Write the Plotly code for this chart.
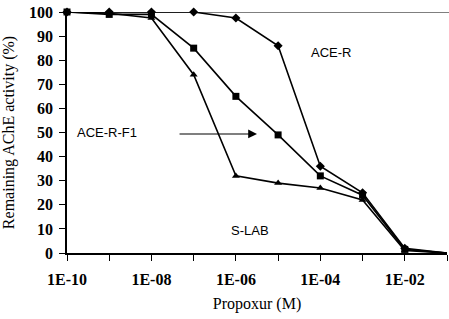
import plotly.graph_objects as go

conc = [1e-10, 1e-9, 1e-8, 1e-7, 1e-6, 1e-5, 1e-4, 1e-3, 1e-2, 1e-1]
ace_r = [100, 100, 100, 100, 97.5, 86, 36, 25, 2, 0]
ace_r_f1 = [100, 99, 99, 85, 65, 49, 32, 24, 1.5, 0]
s_lab = [100, 99.5, 97.5, 74, 32, 29, 27, 22, 1, 0]

xtick_vals = [1e-10, 1e-9, 1e-8, 1e-7, 1e-6, 1e-5, 1e-4, 1e-3, 1e-2, 1e-1]
xtick_text = ["1E-10", "", "1E-08", "", "1E-06", "", "1E-04", "", "1E-02", ""]
ytick_vals = [0, 10, 20, 30, 40, 50, 60, 70, 80, 90, 100]

fig = go.Figure()
line = dict(color="black", width=1.6)
fig.add_trace(go.Scatter(x=conc, y=ace_r, mode="lines+markers", name="ACE-R",
                         line=line, marker=dict(symbol="diamond", size=7, color="black"),
                         cliponaxis=False))
fig.add_trace(go.Scatter(x=conc, y=ace_r_f1, mode="lines+markers", name="ACE-R-F1",
                         line=line, marker=dict(symbol="square", size=7, color="black"),
                         cliponaxis=False))
fig.add_trace(go.Scatter(x=conc, y=s_lab, mode="lines+markers", name="S-LAB",
                         line=line, marker=dict(symbol="triangle-up", size=7, color="black"),
                         cliponaxis=False))

fig.add_shape(type="line", xref="paper", yref="y", x0=0, x1=1.01, y0=100, y1=100,
              line=dict(color="black", width=1.2))

sans = dict(family="Liberation Sans, Arial", size=13, color="black")
fig.add_annotation(x=-3.74, y=83, text="ACE-R", showarrow=False, font=sans)
fig.add_annotation(x=-9.05, y=50, text="ACE-R-F1", showarrow=False, font=sans)
fig.add_annotation(x=-5.66, y=9.5, text="S-LAB", showarrow=False, font=sans)
fig.add_annotation(x=-5.5, y=49.4, ax=-7.37, ay=49.4, xref="x", yref="y",
                   axref="x", ayref="y", text="", showarrow=True,
                   arrowhead=2, arrowsize=1.6, arrowwidth=1.1, arrowcolor="black")

serif_tick = dict(family="Liberation Serif, Times New Roman", size=16, color="black", weight="bold")
serif = dict(family="Liberation Serif, Times New Roman", size=16, color="black")
fig.update_xaxes(type="log", range=[-10, -1], tickvals=xtick_vals, ticktext=xtick_text,
                 ticks="outside", ticklen=6, tickcolor="black", showline=True,
                 linecolor="black", linewidth=1.5, showgrid=False, zeroline=False,
                 tickfont=serif_tick, automargin=False, ticklabelstandoff=5,
                 ticklabeloverflow="allow",
                 title=dict(text="Propoxur (M)", font=serif, standoff=11))
fig.update_yaxes(range=[0, 100], tickvals=ytick_vals, ticks="outside", ticklen=6,
                 tickcolor="black", showline=True, linecolor="black", linewidth=1.5,
                 showgrid=False, zeroline=False, tickfont=serif_tick, automargin=False,
                 ticklabelstandoff=3, ticklabeloverflow="allow",
                 title=dict(text="Remaining AChE activity (%)", font=serif, standoff=11))

fig.update_layout(width=449, height=319, margin=dict(l=67, r=2, t=12, b=66),
                  plot_bgcolor="white", paper_bgcolor="white", showlegend=False)

fig.write_html("out.html", config={"displayModeBar": False},
               post_script="document.body.style.margin='0';document.body.style.overflow='hidden';")
